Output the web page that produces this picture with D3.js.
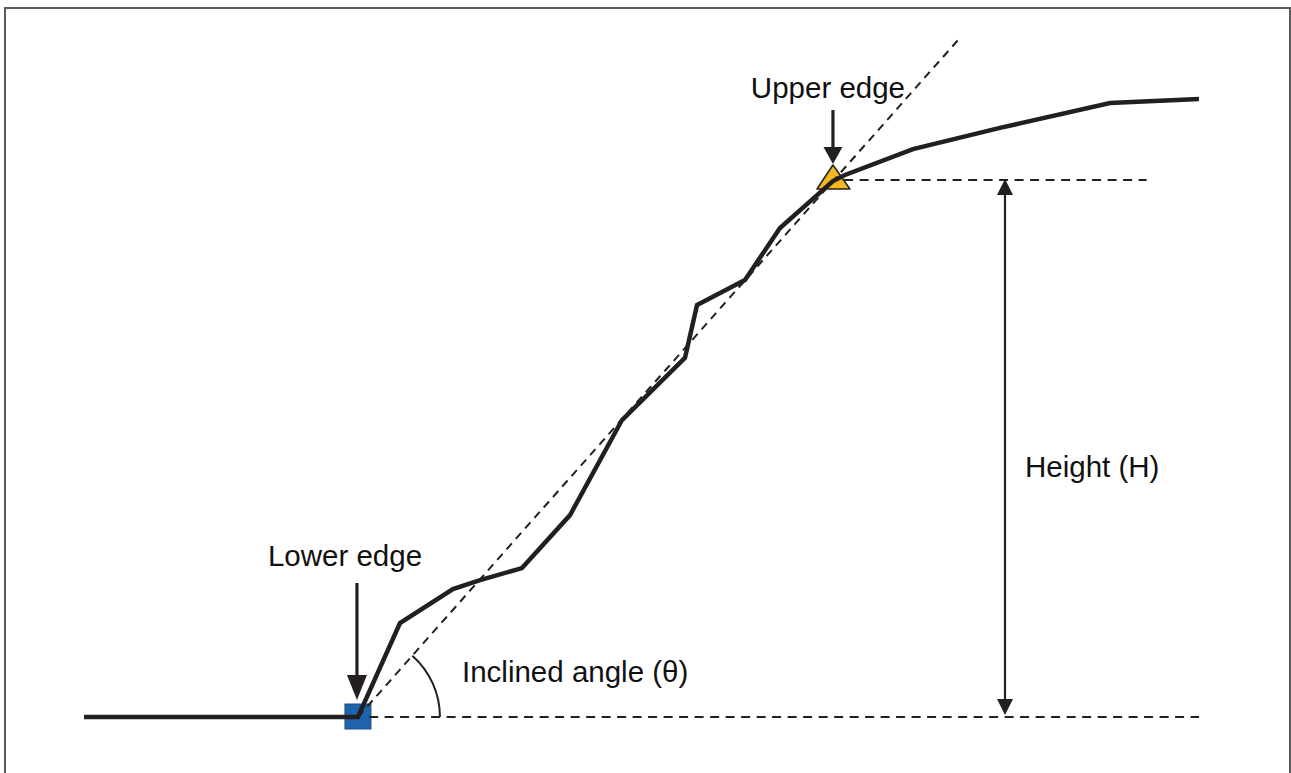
<!DOCTYPE html>
<html>
<head>
<meta charset="utf-8">
<script src="https://cdn.jsdelivr.net/npm/d3@7/dist/d3.min.js"></script>
<style>
  html, body { margin: 0; padding: 0; background: #fff; }
  svg { display: block; }
  text { font-family: "Liberation Sans", Arial, sans-serif; fill: #111; }
</style>
</head>
<body>
<svg id="chart" width="1291" height="773"></svg>
<script>
// Slope profile: distance (m) and elevation (m)
const profileX = [0, 24.57, 28.34, 33.09, 35.52, 39.28, 43.59, 48.25, 53.90, 54.98, 59.28, 62.42, 67.17, 68.25, 74.35, 82.15, 92.02, 100];
const profileY = [0, 0, 5.25, 7.15, 7.65, 8.32, 11.28, 16.59, 20.06, 23.02, 24.41, 27.32, 29.94, 30.28, 31.73, 32.91, 34.30, 34.53];

// Key points
const lowerEdge = { x: 24.57, y: 0 };
const upperEdge = { x: 67.17, y: 30 };
const inclineEnd = { x: 78.39, y: 37.82 };
const baseDashEnd = 100;
const topDashEnd = 95.3;
const heightX = 82.6;

// Labels
const labels = ["Upper edge", "Lower edge", "Inclined angle (θ)", "Height (H)"];

const svg = d3.select("#chart");
const x = d3.scaleLinear().domain([0, 100]).range([84, 1199]);
const y = d3.scaleLinear().domain([0, 30]).range([717, 180]);

const ink = "#231f20";

// frame
svg.append("rect").attr("x", 5).attr("y", 8).attr("width", 1285).attr("height", 800)
  .attr("fill", "none").attr("stroke", "#5a5a5a").attr("stroke-width", 2);

// markers (under lines)
svg.append("rect")
  .attr("x", x(lowerEdge.x) - 13).attr("y", y(lowerEdge.y) - 13)
  .attr("width", 26).attr("height", 25)
  .attr("fill", "#1f63ad").attr("stroke", "#1a4f8a").attr("stroke-width", 1);

const tx = x(upperEdge.x), ty = y(upperEdge.y);
svg.append("path")
  .attr("d", `M${tx},${ty - 15} L${tx + 17},${ty + 9} L${tx - 16},${ty + 9} Z`)
  .attr("fill", "#f4b71f").attr("stroke", ink).attr("stroke-width", 1.5).attr("stroke-linejoin", "round");

const dash = "9 6.5";
const line = d3.line().x(d => x(d[0])).y(d => y(d[1]));

// dashed lines
svg.append("path").datum([[lowerEdge.x + 1, 0], [baseDashEnd, 0]])
  .attr("d", line).attr("fill", "none").attr("stroke", ink).attr("stroke-width", 2.2).attr("stroke-dasharray", dash);
svg.append("path").datum([[upperEdge.x + 1, upperEdge.y], [topDashEnd, upperEdge.y]])
  .attr("d", line).attr("fill", "none").attr("stroke", ink).attr("stroke-width", 2.2).attr("stroke-dasharray", dash);
svg.append("path").datum([[lowerEdge.x, lowerEdge.y], [inclineEnd.x, inclineEnd.y]])
  .attr("d", line).attr("fill", "none").attr("stroke", ink).attr("stroke-width", 2).attr("stroke-dasharray", "8 6");

// angle arc
const cx = x(lowerEdge.x), cy = y(lowerEdge.y);
const ang = Math.atan2(y(lowerEdge.y) - y(inclineEnd.y), x(inclineEnd.x) - x(lowerEdge.x));
const r = 82;
const arc = d3.path();
arc.moveTo(cx + r * Math.cos(ang), cy - r * Math.sin(ang));
arc.arc(cx, cy, r, -ang, 0, false);
svg.append("path").attr("d", arc.toString()).attr("fill", "none").attr("stroke", ink).attr("stroke-width", 2);

// profile
svg.append("path").datum(profileX.map((v, i) => [v, profileY[i]]))
  .attr("d", line).attr("fill", "none").attr("stroke", ink).attr("stroke-width", 4.5)
  .attr("stroke-linejoin", "miter");

// arrows
function arrowDown(px, y0, tip, len, w) {
  svg.append("line").attr("x1", px).attr("x2", px).attr("y1", y0).attr("y2", tip - len + 2)
    .attr("stroke", ink).attr("stroke-width", 3.2);
  svg.append("path").attr("d", `M${px - w / 2},${tip - len} L${px + w / 2},${tip - len} L${px},${tip} Z`).attr("fill", ink);
}
arrowDown(x(lowerEdge.x) - 1, 583, 700, 25, 20);
arrowDown(tx, 110, 164, 17, 19);

// height double arrow
const hx = x(heightX);
const yTop = y(upperEdge.y) - 1, yBot = y(0) - 2;
svg.append("line").attr("x1", hx).attr("x2", hx).attr("y1", yTop + 14).attr("y2", yBot - 14)
  .attr("stroke", ink).attr("stroke-width", 2.2);
svg.append("path").attr("d", `M${hx - 8},${yTop + 16} L${hx + 8},${yTop + 16} L${hx},${yTop} Z`).attr("fill", ink);
svg.append("path").attr("d", `M${hx - 8},${yBot - 16} L${hx + 8},${yBot - 16} L${hx},${yBot} Z`).attr("fill", ink);

// labels
const fs = 29.5;
svg.append("text").attr("x", tx - 5).attr("y", 98).attr("text-anchor", "middle").attr("font-size", fs).text(labels[0]);
svg.append("text").attr("x", 345).attr("y", 566).attr("text-anchor", "middle").attr("font-size", fs).text(labels[1]);
svg.append("text").attr("x", 462).attr("y", 682).attr("font-size", fs).text(labels[2]);
svg.append("text").attr("x", 1025).attr("y", 477).attr("font-size", fs).text(labels[3]);
</script>
</body>
</html>
